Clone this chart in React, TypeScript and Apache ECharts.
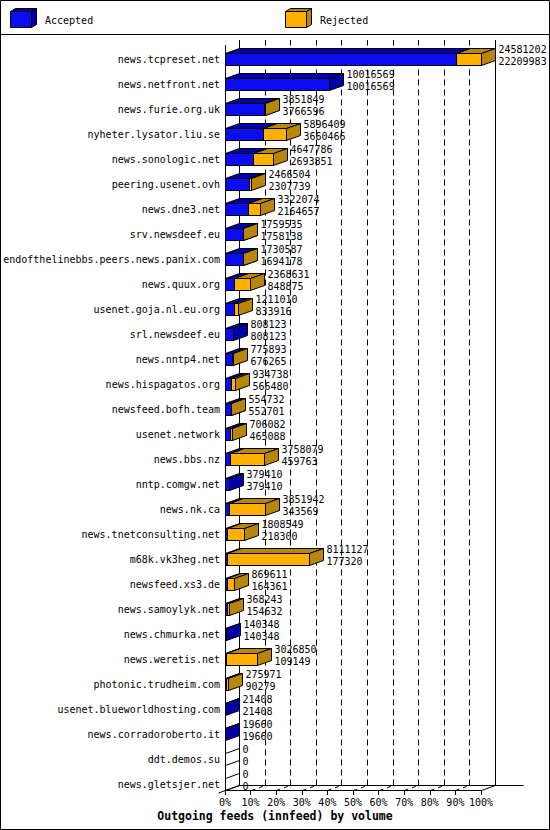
import React, { useEffect, useRef } from "react";
import * as echarts from "echarts";

const hosts = [
  "news.tcpreset.net",
  "news.netfront.net",
  "news.furie.org.uk",
  "nyheter.lysator.liu.se",
  "news.sonologic.net",
  "peering.usenet.ovh",
  "news.dne3.net",
  "srv.newsdeef.eu",
  "endofthelinebbs.peers.news.panix.com",
  "news.quux.org",
  "usenet.goja.nl.eu.org",
  "srl.newsdeef.eu",
  "news.nntp4.net",
  "news.hispagatos.org",
  "newsfeed.bofh.team",
  "usenet.network",
  "news.bbs.nz",
  "nntp.comgw.net",
  "news.nk.ca",
  "news.tnetconsulting.net",
  "m68k.vk3heg.net",
  "newsfeed.xs3.de",
  "news.samoylyk.net",
  "news.chmurka.net",
  "news.weretis.net",
  "photonic.trudheim.com",
  "usenet.blueworldhosting.com",
  "news.corradoroberto.it",
  "ddt.demos.su",
  "news.gletsjer.net",
];

const totals = [
  24581202, 10016569, 3851849, 5896409, 4647786, 2466504, 3322074, 1759535,
  1730587, 2368631, 1211010, 808123, 775893, 934738, 554732, 706082, 3758079,
  379410, 3851942, 1808549, 8111127, 869611, 368243, 140348, 3026850, 275971,
  21408, 19660, 0, 0,
];

const accepted = [
  22209983, 10016569, 3766596, 3660466, 2693851, 2307739, 2164657, 1758138,
  1694178, 848875, 833916, 808123, 676265, 566480, 552701, 465088, 459763,
  379410, 343569, 218300, 177320, 164361, 154632, 140348, 109149, 90279,
  21408, 19660, 0, 0,
];

const percentTicks = [10, 20, 30, 40, 50, 60, 70, 80, 90];

const legendNames = ["Accepted", "Rejected"];
const chartTitle = "Outgoing feeds (innfeed) by volume";

const maxTotal = Math.max(...totals);

const DX = 14;
const DY = -5;
const BLUE = "#0c0cf2";
const BLUE_DARK = "#0000a4";
const ORANGE = "#ffb000";
const ORANGE_DARK = "#b8860b";
const MONO = '"DejaVu Sans Mono", "Liberation Mono", monospace';

const s = (v: number) => Math.round(v) + 0.5;

function box(xL: number, xR: number, top: number, bottom: number, front: string, dark: string) {
  const st = { stroke: "#000", lineWidth: 1 };
  return [
    {
      type: "rect",
      shape: { x: xL, y: top, width: Math.max(0, xR - xL), height: bottom - top },
      style: { fill: front, ...st },
    },
    {
      type: "polygon",
      shape: { points: [[xL, top], [xR, top], [xR + DX, top + DY], [xL + DX, top + DY]] },
      style: { fill: dark, ...st },
    },
    {
      type: "polygon",
      shape: { points: [[xR, top], [xR + DX, top + DY], [xR + DX, bottom + DY], [xR, bottom]] },
      style: { fill: dark, ...st },
    },
  ];
}

function legendIcon(x: number, y: number, w: number, h: number, front: string, dark: string) {
  const d = 5, e = -3;
  const st = { stroke: "#000", lineWidth: 1 };
  return [
    { type: "rect", shape: { x, y, width: w, height: h }, style: { fill: front, ...st } },
    {
      type: "polygon",
      shape: { points: [[x, y], [x + w, y], [x + w + d, y + e], [x + d, y + e]] },
      style: { fill: dark, ...st },
    },
    {
      type: "polygon",
      shape: { points: [[x + w, y], [x + w + d, y + e], [x + w + d, y + h + e], [x + w, y + h]] },
      style: { fill: dark, ...st },
    },
  ];
}

function txt(text: string, x: number, y: number, align: string, font: string) {
  return {
    type: "text",
    x,
    y,
    style: {
      text,
      fill: "#000",
      font,
      align,
      verticalAlign: "middle",
      textAlign: align,
      textVerticalAlign: "middle",
    },
  };
}

export default function App() {
  const ref = useRef<HTMLDivElement>(null);

  useEffect(() => {
    if (!ref.current) return;
    const chart = echarts.init(ref.current, null, { renderer: "svg", width: 550, height: 830 });

    const barData = hosts.map((h, i) => [
      i,
      (accepted[i] / maxTotal) * 100,
      (totals[i] / maxTotal) * 100,
      totals[i],
      accepted[i],
    ]);

    const option: any = {
      animation: false,
      backgroundColor: "#fff",
      grid: { left: 225, top: 40, width: 256, height: 750, containLabel: false },
      xAxis: {
        type: "value",
        min: 0,
        max: 100,
        interval: 10,
        axisLine: { show: true, lineStyle: { color: "#000", width: 1 } },
        axisTick: { show: true, length: 5, lineStyle: { color: "#000" } },
        axisLabel: {
          formatter: "{value}%",
          color: "#000",
          fontFamily: MONO,
          fontSize: 10,
          margin: 7,
        },
        splitLine: { show: false },
      },
      yAxis: {
        type: "category",
        data: hosts,
        inverse: true,
        axisLine: { show: false },
        axisTick: { show: false },
        splitLine: { show: false },
        axisLabel: {
          color: "#000",
          fontFamily: MONO,
          fontSize: 10,
          margin: 5,
          verticalAlign: "top",
          lineHeight: 14,
          interval: 0,
        },
      },
      graphic: [
        {
          type: "rect",
          shape: { x: 0.5, y: 0.5, width: 549, height: 829 },
          style: { fill: "none", stroke: "#000", lineWidth: 1 },
          z: 100,
        },
        {
          type: "line",
          shape: { x1: 0, y1: 34.5, x2: 550, y2: 34.5 },
          style: { stroke: "#000", lineWidth: 1 },
        },
        ...legendIcon(10.5, 11.5, 21, 16, BLUE, BLUE_DARK),
        txt(legendNames[0], 45, 20, "left", `10px ${MONO}`),
        ...legendIcon(285.5, 11.5, 21, 16, ORANGE, ORANGE_DARK),
        txt(legendNames[1], 320, 20, "left", `10px ${MONO}`),
        txt(chartTitle, 275, 816, "center", `bold 11.5px ${MONO}`),
      ],
      series: [
        {
          type: "custom",
          name: "grid",
          z: 1,
          silent: true,
          data: percentTicks.map((v) => [v]),
          encode: { x: 0 },
          renderItem: (params: any, api: any) => {
            const cs = params.coordSys;
            const top = cs.y;
            const bottom = s(cs.y + cs.height);
            const x = s(api.coord([api.value(0), 0])[0]);
            const st = { stroke: "#000", lineWidth: 1, lineDash: [6, 4] };
            return {
              type: "group",
              children: [
                {
                  type: "line",
                  shape: { x1: x, y1: bottom, x2: x + DX, y2: bottom + DY },
                  style: { ...st, lineDash: [4, 4] },
                },
                {
                  type: "line",
                  shape: { x1: x + DX, y1: bottom + DY, x2: x + DX, y2: top },
                  style: st,
                },
              ],
            };
          },
        },
        {
          type: "custom",
          name: "frame",
          z: 2,
          silent: true,
          data: [[0, 100]],
          encode: { x: [0, 1] },
          renderItem: (params: any, api: any) => {
            const cs = params.coordSys;
            const top = cs.y;
            const bottom = s(cs.y + cs.height);
            const left = s(api.coord([api.value(0), 0])[0]);
            const right = s(api.coord([api.value(1), 0])[0]);
            const st = { stroke: "#000", lineWidth: 1 };
            const ln = (x1: number, y1: number, x2: number, y2: number) => ({
              type: "line",
              shape: { x1, y1, x2, y2 },
              style: st,
            });
            return {
              type: "group",
              children: [
                ln(left, top + 5, left, bottom),
                ln(left + DX, top, left + DX, bottom + DY),
                ln(right + DX, top, right + DX, bottom + DY),
                ln(left + DX, bottom + DY, right + DX + 28, bottom + DY),
                ln(left - 7, bottom + 2.5, left + DX, bottom + DY),
                ln(right, bottom, right + DX, bottom + DY),
              ],
            };
          },
        },
        {
          type: "custom",
          name: "feeds",
          z: 3,
          data: barData,
          encode: { y: 0, x: [1, 2] },
          renderItem: (params: any, api: any) => {
            const i = api.value(0);
            const acc = api.value(1);
            const tot = api.value(2);
            const totRaw = api.value(3);
            const accRaw = api.value(4);
            const p0 = api.coord([0, i]);
            const bandH = api.size([0, 1])[1];
            const bottom = s(p0[1] + bandH / 2);
            const top = bottom - 12;
            const xs = s(p0[0]);
            const xa = s(api.coord([acc, i])[0]);
            const xt = s(api.coord([tot, i])[0]);
            const children: any[] = [];
            if (totRaw === 0) {
              children.push({
                type: "polygon",
                shape: { points: [[xs, top], [xs + DX, top + DY], [xs + DX, bottom + DY], [xs, bottom]] },
                style: { fill: "none", stroke: "#000", lineWidth: 1 },
              });
            } else {
              if (accRaw > 0) children.push(...box(xs, xa, top, bottom, BLUE, BLUE_DARK));
              if (totRaw > accRaw) children.push(...box(xa, xt, top, bottom, ORANGE, ORANGE_DARK));
            }
            const lx = xt + DX + 3;
            children.push(txt(String(totRaw), lx, top - 4.5, "left", `10px ${MONO}`));
            children.push(txt(String(accRaw), lx, top + 7.5, "left", `10px ${MONO}`));
            return { type: "group", children };
          },
        },
      ],
    };

    chart.setOption(option);
    return () => chart.dispose();
  }, []);

  return (
    <div
      ref={ref}
      style={{ position: "absolute", left: 0, top: 0, width: 550, height: 830, background: "#fff" }}
    />
  );
}
